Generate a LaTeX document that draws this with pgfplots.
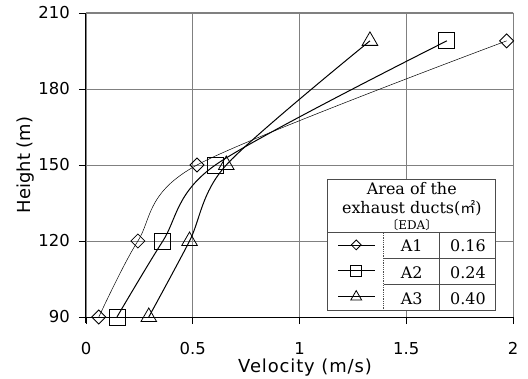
\documentclass[border=0pt]{standalone}
\usepackage{fontspec}
\setmainfont{DejaVu Sans}
\newfontfamily\tabfont{DejaVu Serif}
\newfontfamily\cjk{Noto Sans CJK SC}
\usepackage{pgfplots}
\pgfplotsset{compat=1.18}
\begin{document}
\begin{tikzpicture}
\begin{axis}[
  scale only axis, width=427bp, height=304bp,
  xmin=0, xmax=2, ymin=90, ymax=210,
  xtick={0,0.5,1,1.5,2}, ytick={90,120,150,180,210},
  axis x line*=bottom, axis y line*=left,
  axis line style={-, black, line width=1bp},
  x axis line style={shorten <=-6bp},
  y axis line style={shorten <=-6bp},
  grid=major, major grid style={black!50, line width=0.8bp},
  tick style={black, line width=0.8bp},
  tick align=outside, major tick length=7bp,
  /pgf/number format/assume math mode=true,
  ticklabel style={font=\fontsize{16.5}{16.5}\selectfont, inner sep=0pt},
  xticklabel style={anchor=north},
  yticklabel style={anchor=east},
  xticklabel shift=18bp,
  yticklabel shift=9bp,
  xlabel={\addfontfeature{LetterSpace=5}Velocity (m/s)},
  ylabel={Height (m)},
  xlabel style={font=\fontsize{18}{18}\selectfont, at={(axis description cs:0.513,0)}, anchor=base, yshift=-55bp},
  ylabel style={font=\fontsize{18}{18}\selectfont, at={(axis description cs:-0.131,0.5)}, anchor=base},
  legend image code/.code={\draw[mark repeat=2, mark phase=2, every mark/.append style={scale=0.7}] plot coordinates {(0bp,0bp) (18bp,0bp) (36bp,0bp)};},
  legend style={at={(axis cs:1.268,108.2)}, anchor=center, draw=none, fill=none, inner sep=0pt,
    row sep=0pt, column sep=0pt,
    nodes={inner sep=0pt, text height=13bp, text depth=13bp}},
]
% A1
\addplot[black, line width=0.5bp, smooth, mark=square, mark size=4.95bp,
  mark options={rotate=45, solid, line width=0.8bp, fill=none}]
  coordinates {(0.06,90) (0.243,120) (0.52,150) (1.97,199)};
\addlegendentry{\mbox{}}
% A2
\addplot[black, line width=1bp, smooth, mark=square, mark size=8bp,
  mark options={solid, line width=0.8bp, fill=none}]
  coordinates {(0.145,90) (0.36,120) (0.606,150) (1.69,199)};
\addlegendentry{\mbox{}}
% A3
\addplot[black, line width=1bp, smooth, mark=triangle, mark size=9bp,
  mark options={solid, line width=0.8bp, fill=none}]
  coordinates {(0.294,90) (0.485,120) (0.657,150) (1.33,199)};
\addlegendentry{\mbox{}}
\draw[black!50, line width=1bp] (rel axis cs:0,1) -- (rel axis cs:1,1) -- (rel axis cs:1,0);
% table
\fill[white] (axis cs:1.1315,92.37) rectangle (axis cs:1.920,144.47);
\draw[black!70, line width=1bp] (axis cs:1.1315,92.37) rectangle (axis cs:1.920,144.47);
\draw[black!70, line width=0.8bp] (axis cs:1.1315,123.55) -- (axis cs:1.920,123.55);
\draw[black!70, line width=0.8bp] (axis cs:1.394,113.29) -- (axis cs:1.920,113.29);
\draw[black!70, line width=0.8bp] (axis cs:1.394,102.83) -- (axis cs:1.920,102.83);
\draw[black!70, line width=0.8bp, densely dotted] (axis cs:1.394,92.37) -- (axis cs:1.394,123.55);
\draw[black!70, line width=0.8bp] (axis cs:1.657,92.37) -- (axis cs:1.657,123.55);
\node[anchor=base, inner sep=0pt, font=\tabfont\fontsize{16}{16}\selectfont] at (axis cs:1.526,138.55) {Area of the};
\node[anchor=base, inner sep=0pt, font=\tabfont\fontsize{16}{16}\selectfont] at (axis cs:1.526,130.86) {exhaust ducts({\cjk\fontsize{15}{15}\selectfont ㎡})};
\node[anchor=base, inner sep=0pt, font=\tabfont\fontsize{12}{12}\selectfont] at (axis cs:1.526,124.5) {{\cjk 〔}EDA{\cjk 〕}};
\node[anchor=base, inner sep=0pt, font=\tabfont\fontsize{16}{16}\selectfont] at (axis cs:1.526,115.7) {A1};
\node[anchor=base, inner sep=0pt, font=\tabfont\fontsize{16}{16}\selectfont] at (axis cs:1.526,105.3) {A2};
\node[anchor=base, inner sep=0pt, font=\tabfont\fontsize{16}{16}\selectfont] at (axis cs:1.526,94.9) {A3};
\node[anchor=base, inner sep=0pt, font=\tabfont\fontsize{16}{16}\selectfont] at (axis cs:1.789,115.7) {0.16};
\node[anchor=base, inner sep=0pt, font=\tabfont\fontsize{16}{16}\selectfont] at (axis cs:1.789,105.3) {0.24};
\node[anchor=base, inner sep=0pt, font=\tabfont\fontsize{16}{16}\selectfont] at (axis cs:1.789,94.9) {0.40};
\end{axis}
\pgfresetboundingbox
\useasboundingbox (-86bp,-62bp) rectangle (442bp,317bp);
\end{tikzpicture}
\end{document}
